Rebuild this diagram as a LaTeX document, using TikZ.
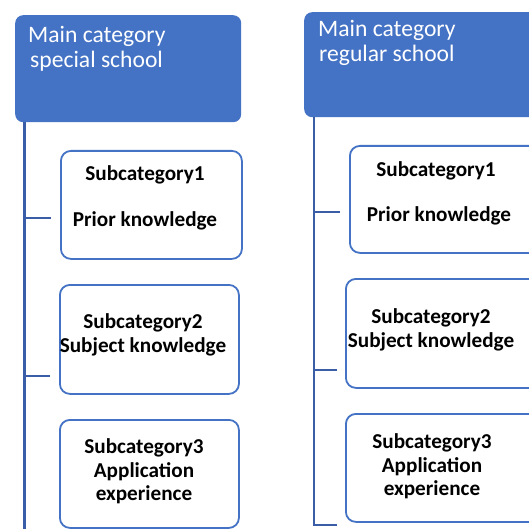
\documentclass[tikz,border=0pt]{standalone}
\usepackage{fontspec}
\setmainfont{Carlito}
\definecolor{mainblue}{HTML}{4472C4}
\definecolor{linblue}{HTML}{3A5DA8}
\begin{document}
\begin{tikzpicture}[x=1pt,y=-1pt,
  mainbox/.style={fill=mainblue, rounded corners=8pt, inner sep=0pt, anchor=north west},
  subbox/.style={draw=mainblue, line width=1.8pt, fill=white, rounded corners=10pt, inner sep=0pt, anchor=north west},
  trunk/.style={draw=linblue, line width=2.4pt},
  maintext/.style={text=white, font=\fontsize{23.6}{25}\selectfont, anchor=base west, inner sep=0pt},
  subtext/.style={font=\bfseries\fontsize{21.2}{23}\selectfont, anchor=base, inner sep=0pt}]
\useasboundingbox (0,0) rectangle (529,529);
\fill[white] (0,0) rectangle (529,529);

% main boxes
\node[mainbox, minimum width=226pt, minimum height=107pt] (mL) at (15,15) {};
\node[mainbox, minimum width=237pt, minimum height=105pt] (mR) at (304,12) {};
\node[maintext] (mL1) at (28,43) {Main category};
\node[maintext] (mL2) at (30,68) {special school};
\node[maintext] (mR1) at (318,37) {Main category};
\node[maintext] (mR2) at (319,62) {regular school};

% sub boxes left
\node[subbox, minimum width=181pt, minimum height=108pt] (sL1) at (60,150) {};
\node[subbox, minimum width=179pt, minimum height=109pt] (sL2) at (59,284) {};
\node[subbox, minimum width=179pt, minimum height=108pt] (sL3) at (59,419) {};
% sub boxes right
\node[subbox, minimum width=192pt, minimum height=107pt] (sR1) at (349,145) {};
\node[subbox, minimum width=196pt, minimum height=109pt] (sR2) at (345,278) {};
\node[subbox, minimum width=196pt, minimum height=108pt] (sR3) at (345,413) {};

% texts left
\node[subtext] (tL11) at (145,181) {Subcategory1};
\node[subtext] (tL12) at (145,226) {Prior knowledge};
\node[subtext] (tL21) at (143,328) {Subcategory2};
\node[subtext] (tL22) at (143,352) {Subject knowledge};
\node[subtext] (tL31) at (144,453) {Subcategory3};
\node[subtext] (tL32) at (144,477) {Application};
\node[subtext] (tL33) at (144,500) {experience};
% texts right
\node[subtext] (tR11) at (436,177) {Subcategory1};
\node[subtext] (tR12) at (439,222) {Prior knowledge};
\node[subtext] (tR21) at (431,323) {Subcategory2};
\node[subtext] (tR22) at (431,347) {Subject knowledge};
\node[subtext] (tR31) at (432,448) {Subcategory3};
\node[subtext] (tR32) at (432,472) {Application};
\node[subtext] (tR33) at (432,495) {experience};

% trunks and branches
\coordinate (bL1) at (24.5,218);
\coordinate (bL2) at (24.5,376);
\coordinate (eL) at (24.5,529);
\coordinate (bR1) at (314,212);
\coordinate (bR2) at (314,370);
\coordinate (bR3) at (314,525);
\draw[trunk] (mL.south west -| bL1) -- (eL);
\draw[trunk] (bL1) -- ([xshift=-9pt]sL1.west |- bL1);
\draw[trunk] (bL2) -- ([xshift=-9pt]sL2.west |- bL2);
\draw[trunk] (mR.south west -| bR1) -- (bR3) -- ([xshift=-8pt]sR3.west |- bR3);
\draw[trunk] (bR1) -- ([xshift=-9pt]sR1.west |- bR1);
\draw[trunk] (bR2) -- ([xshift=-8pt]sR2.west |- bR2);
\end{tikzpicture}
\end{document}
